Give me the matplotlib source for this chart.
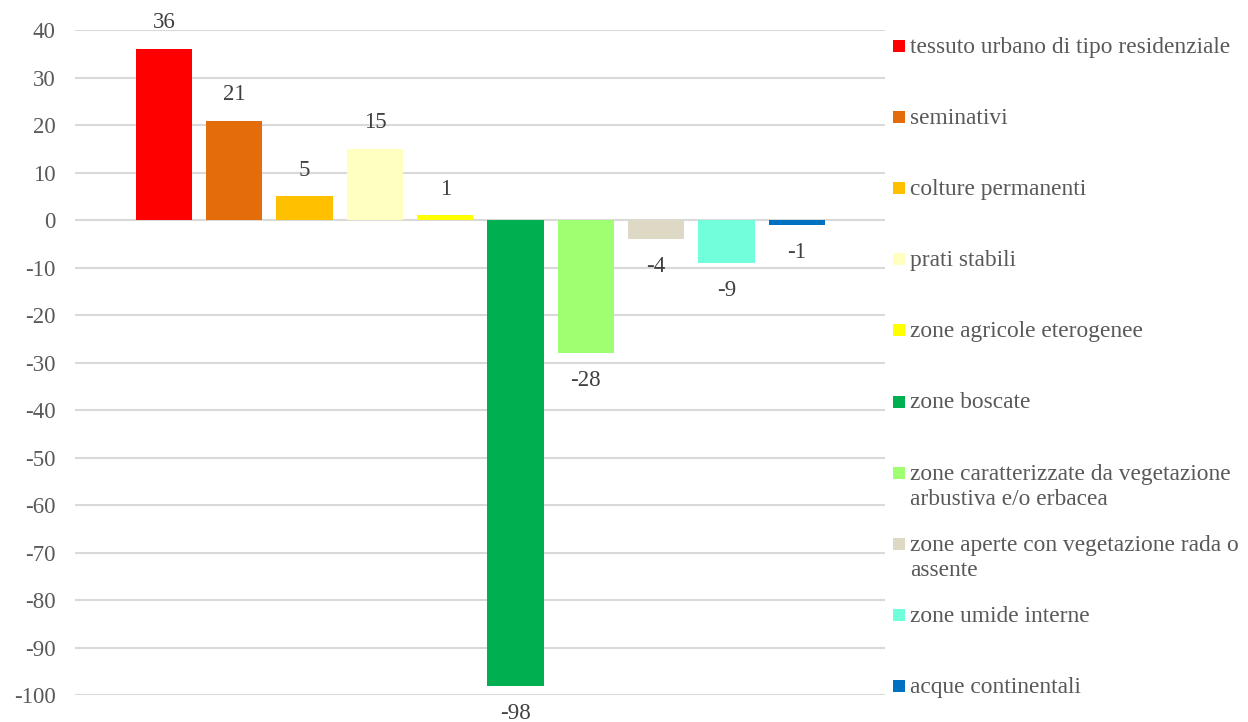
import matplotlib.pyplot as plt
from matplotlib.patches import Rectangle

plt.rcParams['font.family'] = ['Liberation Serif', 'DejaVu Serif']

categorie = [
    "tessuto urbano di tipo residenziale",
    "seminativi",
    "colture permanenti",
    "prati stabili",
    "zone agricole eterogenee",
    "zone boscate",
    "zone caratterizzate da vegetazione\narbustiva e/o erbacea",
    "zone aperte con vegetazione rada o\nassente",
    "zone umide interne",
    "acque continentali",
]
valori = [36, 21, 5, 15, 1, -98, -28, -4, -9, -1]
colori = ["#FF0000", "#E46C0A", "#FFC000", "#FFFFC0", "#FFFF00",
          "#00B050", "#A0FF70", "#DDD9C4", "#70FFDA", "#0070C0"]
y_ticks = list(range(-100, 41, 10))

FS = 16.5

fig = plt.figure(figsize=(12.48, 7.22), dpi=100)
ax = fig.add_axes([0.060, 0.0374, 0.649, 0.9206])

x = list(range(len(valori)))
ax.bar(x, valori, width=0.8, color=colori, zorder=2)

for xi, v in zip(x, valori):
    off = 19 if v >= 0 else -20
    ax.annotate(str(v), (xi, v), xytext=(0, off), textcoords="offset points",
                ha="center", va="center", fontsize=FS, color="#404040",
                annotation_clip=False)

ax.set_xlim(-1.265, 10.25)
ax.set_ylim(-100, 40)
ax.set_yticks(y_ticks)
ax.set_yticklabels([str(t) for t in y_ticks], fontsize=FS, color="#595959")
ax.set_xticks([])
ax.tick_params(axis="y", length=0, pad=14)
ax.grid(axis="y", color="#D9D9D9", linewidth=1.5, zorder=0)
for s in ax.spines.values():
    s.set_visible(False)

# legenda disegnata a mano, come in Excel
W, H = 1248, 722
for i, (lab, col) in enumerate(zip(categorie, colori)):
    yc = 46 + i * 71.1
    fig.patches.append(Rectangle((893 / W, 1 - (yc + 6) / H), 12 / W, 12 / H,
                                 facecolor=col, edgecolor="none",
                                 transform=fig.transFigure, figure=fig))
    fig.text(910 / W, 1 - (yc - 9) / H, lab, ha="left", va="top",
             fontsize=16.8, color="#595959", linespacing=1.28)

fig.savefig("out.png", dpi=100)
